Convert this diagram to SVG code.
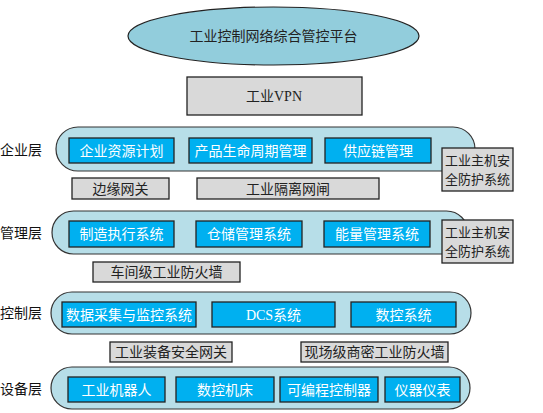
<svg xmlns="http://www.w3.org/2000/svg" width="543" height="413" viewBox="0 0 543 413">
<style>
text{font-family:"Liberation Serif","Noto Sans CJK SC",serif;font-size:14px;text-anchor:middle;dominant-baseline:central}
.layer{fill:#B7DEE8;stroke:#333;stroke-width:1.2}
.sys{fill:#00B0F0;stroke:#222;stroke-width:1.3}
.w{fill:#fff}
.dev{fill:#D9D9D9;stroke:#222;stroke-width:1.3}
.k{fill:#222}
.h{font-size:13px}
.lbl{text-anchor:start;fill:#111}
</style>
<rect width="543" height="413" fill="#fff"/>
<g id="platform">
<ellipse cx="273.5" cy="36" rx="145.5" ry="29" fill="#92CDDC" stroke="#222" stroke-width="1.2"/>
<text x="273.5" y="36" class="k">工业控制网络综合管控平台</text>
</g>
<g id="vpn">
<rect x="187" y="77" width="175" height="38" class="dev"/>
<text x="274" y="96" class="k" font-size="13">工业VPN</text>
</g>
<g id="connectors"/>
<g id="enterprise">
<text x="0" y="150" class="lbl">企业层</text>
<rect x="56" y="127" width="419" height="44" rx="22" class="layer"/>
<rect x="69" y="138" width="105" height="25" class="sys"/><text x="121.5" y="151" class="w">企业资源计划</text>
<rect x="189" y="138" width="123" height="25" class="sys"/><text x="250.5" y="151" class="w">产品生命周期管理</text>
<rect x="325" y="138" width="106" height="25" class="sys"/><text x="378" y="151" class="w">供应链管理</text>
</g>
<g id="host1">
<rect x="442" y="148" width="71" height="43" class="dev"/>
<text x="477.5" y="160" class="k h">工业主机安</text>
<text x="477.5" y="179" class="k h">全防护系统</text>
</g>
<g id="edge-gw"><rect x="72" y="178" width="97" height="21" class="dev"/><text x="120.5" y="189" class="k">边缘网关</text></g>
<g id="isolation"><rect x="197" y="178" width="182" height="21" class="dev"/><text x="288" y="189" class="k">工业隔离网闸</text></g>
<g id="management">
<text x="0" y="233" class="lbl">管理层</text>
<rect x="52" y="211" width="416" height="43" rx="21.5" class="layer"/>
<rect x="69" y="221" width="105" height="26" class="sys"/><text x="121.5" y="234.5" class="w">制造执行系统</text>
<rect x="196" y="221" width="106" height="26" class="sys"/><text x="249" y="234.5" class="w">仓储管理系统</text>
<rect x="324" y="221" width="106" height="26" class="sys"/><text x="377" y="234.5" class="w">能量管理系统</text>
</g>
<g id="host2">
<rect x="442" y="220" width="71" height="43" class="dev"/>
<text x="477.5" y="232" class="k h">工业主机安</text>
<text x="477.5" y="251" class="k h">全防护系统</text>
</g>
<g id="workshop-fw"><rect x="93" y="262" width="147" height="20" class="dev"/><text x="166.5" y="272.5" class="k">车间级工业防火墙</text></g>
<g id="control">
<text x="0" y="313" class="lbl">控制层</text>
<rect x="51" y="292" width="420" height="42" rx="21" class="layer"/>
<rect x="62" y="302" width="134" height="25" class="sys"/><text x="129" y="315" class="w">数据采集与监控系统</text>
<rect x="212" y="302" width="123" height="25" class="sys"/><text x="273.5" y="315" class="w">DCS系统</text>
<rect x="351" y="302" width="105" height="25" class="sys"/><text x="403.5" y="315" class="w">数控系统</text>
</g>
<g id="equip-gw"><rect x="110" y="342" width="122" height="20" class="dev"/><text x="171" y="352.5" class="k">工业装备安全网关</text></g>
<g id="field-fw"><rect x="301" y="342" width="147" height="20" class="dev"/><text x="374.5" y="352.5" class="k">现场级商密工业防火墙</text></g>
<g id="device">
<text x="0" y="389" class="lbl">设备层</text>
<rect x="51" y="367" width="419" height="42" rx="21" class="layer"/>
<rect x="68" y="377" width="97" height="25" class="sys"/><text x="116.5" y="390" class="w">工业机器人</text>
<rect x="176" y="377" width="98" height="25" class="sys"/><text x="225" y="390" class="w">数控机床</text>
<rect x="280" y="377" width="98" height="25" class="sys"/><text x="329" y="390" class="w">可编程控制器</text>
<rect x="385" y="377" width="75" height="25" class="sys"/><text x="422.5" y="390" class="w">仪器仪表</text>
</g>
</svg>
